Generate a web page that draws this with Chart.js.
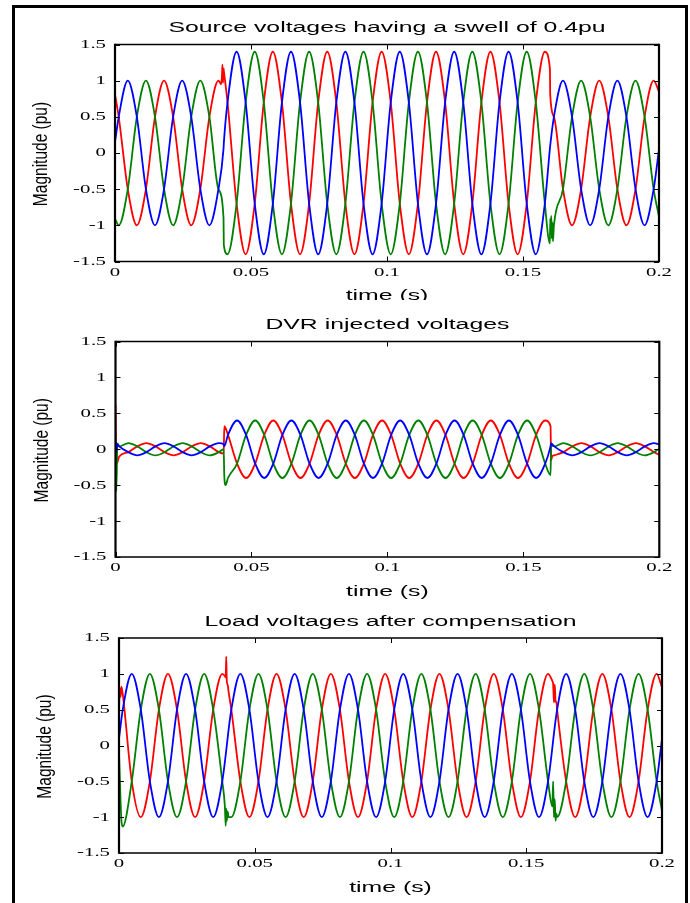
<!DOCTYPE html>
<html>
<head>
<meta charset="utf-8">
<script src="https://cdn.jsdelivr.net/npm/chart.js@4.4.1/dist/chart.umd.min.js"></script>
<style>
  html, body { margin: 0; padding: 0; background: #fff; }
  body { width: 690px; height: 903px; position: relative; overflow: hidden; }
  #frame { position: absolute; left: 12px; top: 5px; width: 670px; height: 1000px; border: 3px solid #000; }
  canvas { position: absolute; left: 0; }
</style>
</head>
<body>
<div id="frame"></div>
<canvas id="src" width="690" height="300" style="top:0px"></canvas>
<canvas id="dvr" width="690" height="300" style="top:300px"></canvas>
<canvas id="load" width="690" height="303" style="top:600px"></canvas>
<script>
// axis ticks
const xTicks = [0, 0.05, 0.1, 0.15, 0.2];
const xTickLabels = ['0', '0.05', '0.1', '0.15', '0.2'];
const yTicks = [1.5, 1, 0.5, 0, -0.5, -1, -1.5];
const yTickLabels = ['1.5', '1', '0.5', '0', '-0.5', '-1', '-1.5'];

// ---- source voltages (swell 0.04 s .. 0.16 s) ----
const srcTime = [
  0,
  0.00137, 0.00470, 0.00803, 0.01137, 0.01470, 0.01803,
  0.02137, 0.02470, 0.02803, 0.03137, 0.03470, 0.03803,
  0.0390, 0.0393, 0.0395, 0.0397, 0.0399, 0.0400,
  0.04137, 0.04470, 0.04803, 0.05137, 0.05470, 0.05803,
  0.06137, 0.06470, 0.06803, 0.07137, 0.07470, 0.07803,
  0.08137, 0.08470, 0.08803, 0.09137, 0.09470, 0.09803,
  0.10137, 0.10470, 0.10803, 0.11137, 0.11470, 0.11803,
  0.12137, 0.12470, 0.12803, 0.13137, 0.13470, 0.13803,
  0.14137, 0.14470, 0.14803, 0.15137, 0.15470, 0.15803,
  0.1599, 0.1600, 0.1602, 0.1604, 0.1606, 0.1608, 0.1610,
  0.16137, 0.16470, 0.16803, 0.17137, 0.17470, 0.17803,
  0.18137, 0.18470, 0.18803, 0.19137, 0.19470, 0.19803,
  0.2
];
const srcBlue = [
  0.15,
  0.5, 1, 0.5, -0.5, -1, -0.5,
  0.5, 1, 0.5, -0.5, -1, -0.5,
  null, null, null, null, 0.06, 0.13,
  0.7, 1.4, 0.7, -0.7, -1.4, -0.7,
  0.7, 1.4, 0.7, -0.7, -1.4, -0.7,
  0.7, 1.4, 0.7, -0.7, -1.4, -0.7,
  0.7, 1.4, 0.7, -0.7, -1.4, -0.7,
  0.7, 1.4, 0.7, -0.7, -1.4, -0.7,
  0.7, 1.4, 0.7, -0.7, -1.4, -0.7,
  null, 0.1, null, null, null, null, null,
  0.5, 1, 0.5, -0.5, -1, -0.5,
  0.5, 1, 0.5, -0.5, -1, -0.5,
  0.05
];
const srcGreen = [
  -0.91,
  -1, -0.5, 0.5, 1, 0.5, -0.5,
  -1, -0.5, 0.5, 1, 0.5, -0.5,
  null, null, null, null, -0.9, -1.27,
  -1.4, -0.7, 0.7, 1.4, 0.7, -0.7,
  -1.4, -0.7, 0.7, 1.4, 0.7, -0.7,
  -1.4, -0.7, 0.7, 1.4, 0.7, -0.7,
  -1.4, -0.7, 0.7, 1.4, 0.7, -0.7,
  -1.4, -0.7, 0.7, 1.4, 0.7, -0.7,
  -1.4, -0.7, 0.7, 1.4, 0.7, -0.7,
  -1.25, -0.91, -1.1, -0.87, -1.18, -0.96, -1.22,
  -1, -0.5, 0.5, 1, 0.5, -0.5,
  -1, -0.5, 0.5, 1, 0.5, -0.5,
  -0.88
];
const srcRed = [
  0.81,
  0.5, -0.5, -1, -0.5, 0.5, 1,
  0.5, -0.5, -1, -0.5, 0.5, 1,
  0.95, 1.05, 1.22, 0.97, 1.17, 1.14,
  0.7, -0.7, -1.4, -0.7, 0.7, 1.4,
  0.7, -0.7, -1.4, -0.7, 0.7, 1.4,
  0.7, -0.7, -1.4, -0.7, 0.7, 1.4,
  0.7, -0.7, -1.4, -0.7, 0.7, 1.4,
  0.7, -0.7, -1.4, -0.7, 0.7, 1.4,
  0.7, -0.7, -1.4, -0.7, 0.7, 1.4,
  1.16, 0.81, null, null, null, null, null,
  0.5, -0.5, -1, -0.5, 0.5, 1,
  0.5, -0.5, -1, -0.5, 0.5, 1,
  0.85
];

// ---- DVR injected voltages ----
const dvrTime = [
  0, 0.0003, 0.0007,
  0.00137, 0.00470, 0.00803, 0.01137, 0.01470, 0.01803,
  0.02137, 0.02470, 0.02803, 0.03137, 0.03470, 0.03803,
  0.0398, 0.0400, 0.0405,
  0.04137, 0.04470, 0.04803, 0.05137, 0.05470, 0.05803,
  0.06137, 0.06470, 0.06803, 0.07137, 0.07470, 0.07803,
  0.08137, 0.08470, 0.08803, 0.09137, 0.09470, 0.09803,
  0.10137, 0.10470, 0.10803, 0.11137, 0.11470, 0.11803,
  0.12137, 0.12470, 0.12803, 0.13137, 0.13470, 0.13803,
  0.14137, 0.14470, 0.14803, 0.15137, 0.15470, 0.15803,
  0.1600, 0.1602, 0.1606,
  0.16137, 0.16470, 0.16803, 0.17137, 0.17470, 0.17803,
  0.18137, 0.18470, 0.18803, 0.19137, 0.19470, 0.19803,
  0.2
];
const dvrBlue = [
  0.1, -0.03, 0.07,
  0.04, -0.04, -0.085, -0.04, 0.04, 0.085,
  0.04, -0.04, -0.085, -0.04, 0.04, 0.085,
  0.07, 0.04, null,
  0.2, 0.4, 0.2, -0.2, -0.4, -0.2,
  0.2, 0.4, 0.2, -0.2, -0.4, -0.2,
  0.2, 0.4, 0.2, -0.2, -0.4, -0.2,
  0.2, 0.4, 0.2, -0.2, -0.4, -0.2,
  0.2, 0.4, 0.2, -0.2, -0.4, -0.2,
  0.2, 0.4, 0.2, -0.2, -0.4, -0.2,
  0.04, 0.08, null,
  0.04, -0.04, -0.085, -0.04, 0.04, 0.085,
  0.04, -0.04, -0.085, -0.04, 0.04, 0.085,
  0.069
];
const dvrGreen = [
  0.1, -0.58, 0.08,
  0.04, 0.085, 0.04, -0.04, -0.085, -0.04,
  0.04, 0.085, 0.04, -0.04, -0.085, -0.04,
  0.0, -0.36, -0.5,
  -0.4, -0.2, 0.2, 0.4, 0.2, -0.2,
  -0.4, -0.2, 0.2, 0.4, 0.2, -0.2,
  -0.4, -0.2, 0.2, 0.4, 0.2, -0.2,
  -0.4, -0.2, 0.2, 0.4, 0.2, -0.2,
  -0.4, -0.2, 0.2, 0.4, 0.2, -0.2,
  -0.4, -0.2, 0.2, 0.4, 0.2, -0.2,
  -0.36, 0.05, null,
  0.04, 0.085, 0.04, -0.04, -0.085, -0.04,
  0.04, 0.085, 0.04, -0.04, -0.085, -0.04,
  0.008
];
const dvrRed = [
  0.62, -0.2, -0.18,
  -0.1, -0.04, 0.04, 0.085, 0.04, -0.04,
  -0.085, -0.04, 0.04, 0.085, 0.04, -0.04,
  -0.06, 0.32, null,
  0.2, -0.2, -0.4, -0.2, 0.2, 0.4,
  0.2, -0.2, -0.4, -0.2, 0.2, 0.4,
  0.2, -0.2, -0.4, -0.2, 0.2, 0.4,
  0.2, -0.2, -0.4, -0.2, 0.2, 0.4,
  0.2, -0.2, -0.4, -0.2, 0.2, 0.4,
  0.2, -0.2, -0.4, -0.2, 0.2, 0.4,
  0.32, -0.15, -0.1,
  -0.085, -0.04, 0.04, 0.085, 0.04, -0.04,
  -0.085, -0.04, 0.04, 0.085, 0.04, -0.04,
  -0.078
];

// ---- load voltages after compensation ----
const loadTime = [
  0, 0.0003, 0.0006, 0.0009,
  0.00137, 0.00470, 0.00803, 0.01137, 0.01470, 0.01803,
  0.02137, 0.02470, 0.02803, 0.03137, 0.03470, 0.03803,
  0.0390, 0.0393, 0.0395, 0.0397, 0.0400, 0.0404,
  0.04137, 0.04470, 0.04803, 0.05137, 0.05470, 0.05803,
  0.06137, 0.06470, 0.06803, 0.07137, 0.07470, 0.07803,
  0.08137, 0.08470, 0.08803, 0.09137, 0.09470, 0.09803,
  0.10137, 0.10470, 0.10803, 0.11137, 0.11470, 0.11803,
  0.12137, 0.12470, 0.12803, 0.13137, 0.13470, 0.13803,
  0.14137, 0.14470, 0.14803, 0.15137, 0.15470, 0.15803,
  0.1596, 0.1599, 0.1602, 0.1605, 0.1608, 0.1611,
  0.16137, 0.16470, 0.16803, 0.17137, 0.17470, 0.17803,
  0.18137, 0.18470, 0.18803, 0.19137, 0.19470, 0.19803,
  0.2
];
const loadBlue = [
  0.1, 0.19, null, null,
  0.5, 1, 0.5, -0.5, -1, -0.5,
  0.5, 1, 0.5, -0.5, -1, -0.5,
  null, null, null, null, null, null,
  0.5, 1, 0.5, -0.5, -1, -0.5,
  0.5, 1, 0.5, -0.5, -1, -0.5,
  0.5, 1, 0.5, -0.5, -1, -0.5,
  0.5, 1, 0.5, -0.5, -1, -0.5,
  0.5, 1, 0.5, -0.5, -1, -0.5,
  0.5, 1, 0.5, -0.5, -1, -0.5,
  null, null, null, null, null, null,
  0.5, 1, 0.5, -0.5, -1, -0.5,
  0.5, 1, 0.5, -0.5, -1, -0.5,
  0.09
];
const loadGreen = [
  -0.1, -0.45, -0.8, -1.05,
  -1.13, -0.5, 0.5, 1, 0.5, -0.5,
  -1, -0.5, 0.5, 1, 0.5, -0.5,
  -0.85, -1.12, -0.88, -1.05, -0.92, -1.0,
  -1, -0.5, 0.5, 1, 0.5, -0.5,
  -1, -0.5, 0.5, 1, 0.5, -0.5,
  -1, -0.5, 0.5, 1, 0.5, -0.5,
  -1, -0.5, 0.5, 1, 0.5, -0.5,
  -1, -0.5, 0.5, 1, 0.5, -0.5,
  -1, -0.5, 0.5, 1, 0.5, -0.5,
  -0.85, -0.5, -1.0, -0.75, -1.05, -0.95,
  -1, -0.5, 0.5, 1, 0.5, -0.5,
  -1, -0.5, 0.5, 1, 0.5, -0.5,
  -0.91
];
const loadRed = [
  0.5, 0.8, 0.68, 0.82,
  0.72, -0.5, -1, -0.5, 0.5, 1,
  0.5, -0.5, -1, -0.5, 0.5, 1,
  0.97, 0.95, 1.24, 0.9, 0.85, 0.74,
  0.5, -0.5, -1, -0.5, 0.5, 1,
  0.5, -0.5, -1, -0.5, 0.5, 1,
  0.5, -0.5, -1, -0.5, 0.5, 1,
  0.5, -0.5, -1, -0.5, 0.5, 1,
  0.5, -0.5, -1, -0.5, 0.5, 1,
  0.5, -0.5, -1, -0.5, 0.5, 1,
  0.9, 0.86, 0.6, 0.85, 0.62, 0.6,
  0.5, -0.5, -1, -0.5, 0.5, 1,
  0.5, -0.5, -1, -0.5, 0.5, 1,
  0.81
];

const BLUE = '#0000ff', GREEN = '#008000', RED = '#ff0000';
const SANS = '"Liberation Sans", Arial, sans-serif';
const SERIF = '"Liberation Serif", "Times New Roman", serif';

// text drawn with a horizontal stretch, like the exported figure
function stretchText(ctx, str, x, y, size, family, sx, align) {
  ctx.save();
  ctx.translate(x, y);
  ctx.scale(sx, 1);
  ctx.font = size + 'px ' + family;
  ctx.textAlign = align;
  ctx.textBaseline = 'middle';
  ctx.fillText(str, 0, 0);
  ctx.restore();
}

const matlabAxes = {
  id: 'matlabAxes',
  afterDatasetsDraw(chart, args, opts) {
    const { ctx, chartArea: a, scales: { x, y } } = chart;
    ctx.save();
    ctx.strokeStyle = '#000';
    ctx.fillStyle = '#000';

    // inward ticks on all four sides
    ctx.lineWidth = 1;
    ctx.beginPath();
    xTicks.forEach(v => {
      const px = Math.round(x.getPixelForValue(v)) + 0.5;
      ctx.moveTo(px, a.bottom); ctx.lineTo(px, a.bottom - 5);
      ctx.moveTo(px, a.top); ctx.lineTo(px, a.top + 5);
    });
    yTicks.forEach(v => {
      const py = Math.round(y.getPixelForValue(v)) + 0.5;
      ctx.moveTo(a.left, py); ctx.lineTo(a.left + 5, py);
      ctx.moveTo(a.right, py); ctx.lineTo(a.right - 5, py);
    });
    ctx.stroke();

    // box
    ctx.lineWidth = 1.6;
    ctx.beginPath();
    ctx.moveTo(a.left, a.top); ctx.lineTo(a.right, a.top);
    ctx.moveTo(a.left, a.bottom); ctx.lineTo(a.right, a.bottom);
    ctx.stroke();
    ctx.lineWidth = 2.2;
    ctx.beginPath();
    ctx.moveTo(a.left, a.top - 0.8); ctx.lineTo(a.left, a.bottom + 0.8);
    ctx.moveTo(a.right, a.top - 0.8); ctx.lineTo(a.right, a.bottom + 0.8);
    ctx.stroke();

    // tick labels
    xTicks.forEach((v, i) => {
      stretchText(ctx, xTickLabels[i], x.getPixelForValue(v), a.bottom + 11, 13, SERIF, 1.6, 'center');
    });
    yTicks.forEach((v, i) => {
      stretchText(ctx, yTickLabels[i], a.left - 9, y.getPixelForValue(v), 13, SERIF, 1.6, 'right');
    });

    // title and axis labels
    const cx = (a.left + a.right) / 2;
    stretchText(ctx, opts.title, cx, a.top - 16.5, 15.5, SANS, 1.6, 'center');
    stretchText(ctx, 'time (s)', cx, a.bottom + 34.5, 15.5, SANS, 1.6, 'center');

    ctx.save();
    ctx.translate(a.left - 73, (a.top + a.bottom) / 2 + 1);
    ctx.rotate(-Math.PI / 2);
    ctx.scale(1, 1.25);
    ctx.font = '15.5px ' + SANS;
    ctx.textAlign = 'center';
    ctx.textBaseline = 'middle';
    ctx.fillText('Magnitude (pu)', 0, 0);
    ctx.restore();

    ctx.restore();
  }
};

function phase(time, values, color) {
  return {
    data: time.map((t, i) => ({ x: t, y: values[i] })),
    borderColor: color,
    borderWidth: 1.8,
    pointRadius: 0,
    fill: false,
    cubicInterpolationMode: 'monotone',
    spanGaps: true
  };
}

function makeChart(id, padding, title, time, blue, green, red) {
  new Chart(document.getElementById(id), {
    type: 'line',
    data: {
      datasets: [
        phase(time, blue, BLUE),
        phase(time, green, GREEN),
        phase(time, red, RED)
      ]
    },
    options: {
      responsive: false,
      animation: false,
      devicePixelRatio: 1,
      events: [],
      layout: { padding: padding },
      plugins: {
        legend: { display: false },
        tooltip: { enabled: false },
        matlabAxes: { title: title }
      },
      scales: {
        x: { type: 'linear', min: 0, max: 0.2, display: false },
        y: { type: 'linear', min: -1.5, max: 1.5, display: false }
      }
    },
    plugins: [matlabAxes]
  });
}

makeChart('src', { left: 115, right: 31, top: 44.5, bottom: 38.5 },
  'Source voltages having a swell of 0.4pu', srcTime, srcBlue, srcGreen, srcRed);
makeChart('dvr', { left: 115.5, right: 30.7, top: 41.5, bottom: 43 },
  'DVR injected voltages', dvrTime, dvrBlue, dvrGreen, dvrRed);
makeChart('load', { left: 119, right: 28, top: 38, bottom: 50 },
  'Load voltages after compensation', loadTime, loadBlue, loadGreen, loadRed);
</script>
</body>
</html>
